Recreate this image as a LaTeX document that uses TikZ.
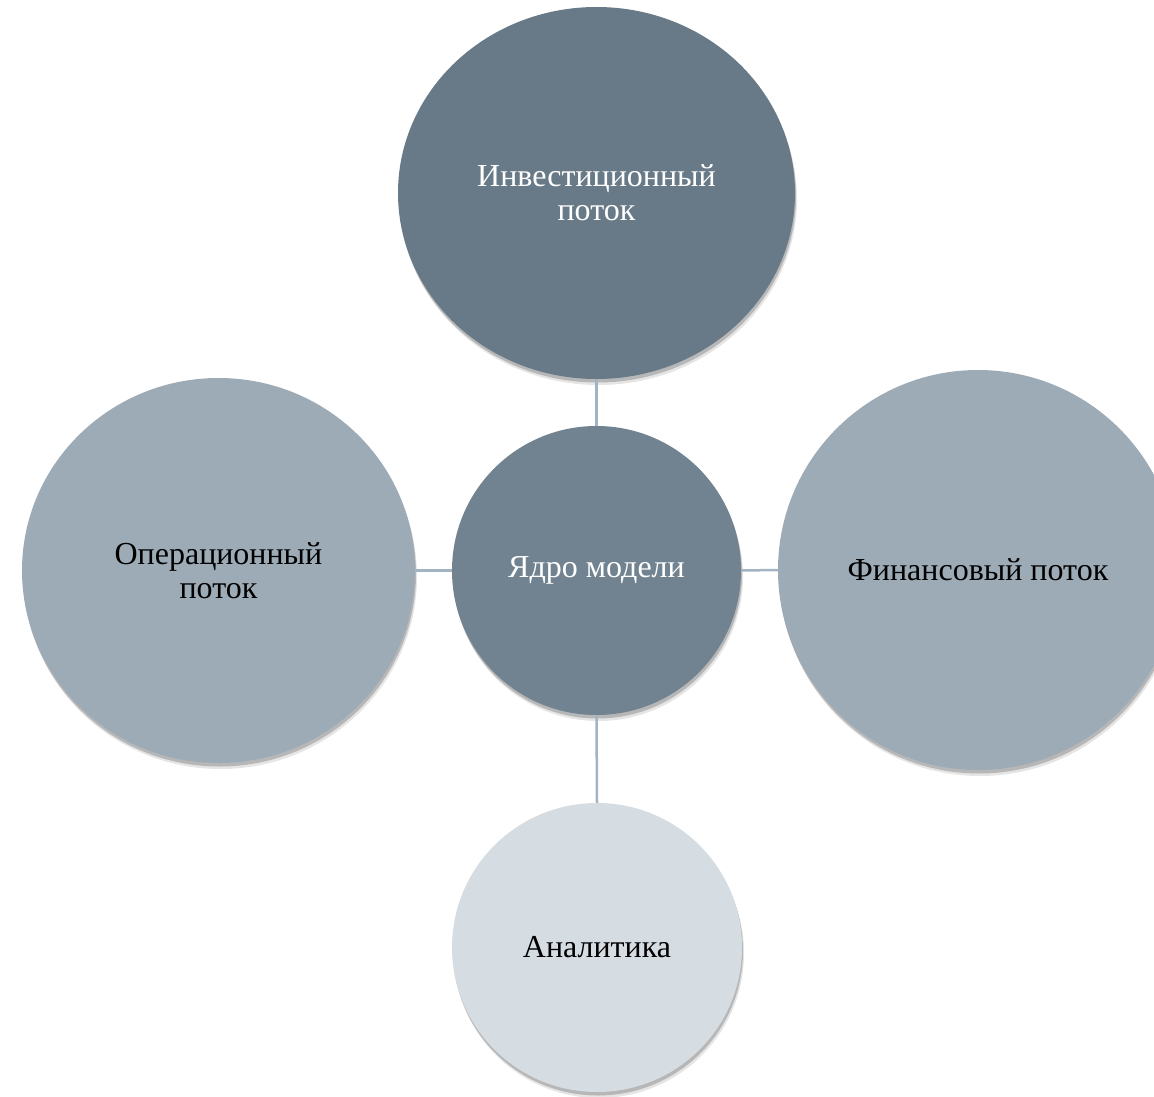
\documentclass[tikz,border=0pt]{standalone}
\usepackage{fontspec}
\setmainfont{Liberation Serif}
\usetikzlibrary{shapes.geometric,shadows}
\definecolor{cTop}{HTML}{687A87}
\definecolor{cCore}{HTML}{718390}
\definecolor{cSide}{HTML}{9DABB6}
\definecolor{cLow}{HTML}{D5DCE2}
\definecolor{cLine}{HTML}{A2B4C2}
\tikzset{
  bubble/.style={ellipse, inner sep=0pt, align=center,
    font=\fontsize{32}{34}\selectfont,
    drop shadow={shadow xshift=2pt, shadow yshift=-6pt, opacity=0.10, fill=black},
    drop shadow={shadow xshift=1pt, shadow yshift=-3.5pt, opacity=0.20, fill=black}},
  link/.style={draw=cLine, line width=2.5pt}
}
\begin{document}
\begin{tikzpicture}[x=1pt,y=-1pt]
\useasboundingbox (0,0) rectangle (1154,1097);
\fill[white] (0,0) rectangle (1154,1097);
\node[bubble, fill=cTop, text=white, minimum width=397pt, minimum height=372pt] (inv) at (596.5,193) {Инвестиционный\\поток};
\node[bubble, fill=cSide, text=black, minimum width=393pt, minimum height=385pt] (op) at (218.5,570.5) {Операционный\\поток};
\node[bubble, fill=cSide, text=black, minimum width=400pt, minimum height=400pt] (fin) at (978,570) {Финансовый поток};
\node[bubble, fill=cLow, text=black, minimum width=290pt, minimum height=289pt] (an) at (597,947.5) {Аналитика};
\node[bubble, fill=cCore, text=white, minimum width=289pt, minimum height=289pt] (core) at (596.5,570.5) {Ядро модели};
\draw[link] (core.north) -- (inv.south);
\draw[link] (core.west) -- (op.east);
\draw[link] (core.east) -- (fin.west);
\draw[link] (core.south) -- (an.north);
\end{tikzpicture}
\end{document}
